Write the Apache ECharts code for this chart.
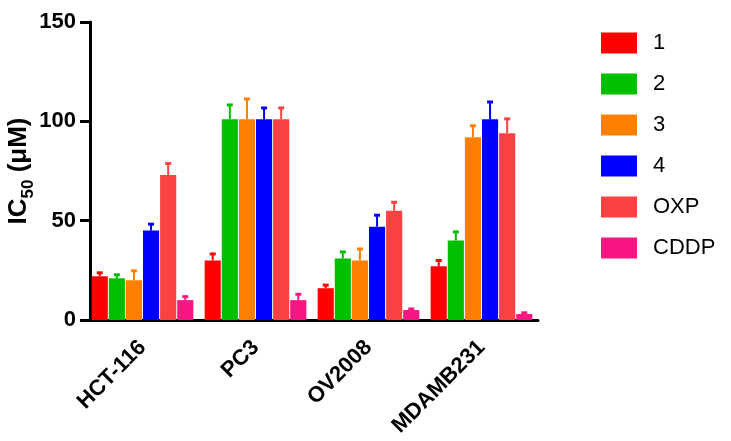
<!DOCTYPE html>
<html>
<head>
<meta charset="utf-8">
<title>IC50</title>
<script src="https://cdn.jsdelivr.net/npm/echarts@6/dist/echarts.min.js"></script>
<style>
    html, body { margin: 0; padding: 0; background: #fff; }
    #chart { width: 731px; height: 441px; }
</style>
</head>
<body>
<div id="chart"></div>
<script>
    // cell lines
    var categories = ['HCT-116', 'PC3', 'OV2008', 'MDAMB231'];
    var seriesNames = ['1', '2', '3', '4', 'OXP', 'CDDP'];
    var yTicks = [0, 50, 100, 150];

    // mean IC50 values (uM)
    var comp1 = [22, 30, 16, 27];
    var comp2 = [21, 101, 31, 40];
    var comp3 = [20, 101, 30, 92];
    var comp4 = [45, 101, 47, 101];
    var oxp = [73, 101, 55, 94];
    var cddp = [10, 10, 5, 3];

    // upper error (SD)
    var err1 = [2, 3.5, 1.8, 3.2];
    var err2 = [2, 7.5, 3.5, 4.6];
    var err3 = [5, 10.5, 6, 6];
    var err4 = [3.5, 6, 6, 9];
    var errOxp = [6, 6, 4.5, 7.5];
    var errCddp = [2, 3.2, 0.8, 0.9];

    var values = [comp1, comp2, comp3, comp4, oxp, cddp];
    var errors = [err1, err2, err3, err4, errOxp, errCddp];
    var colors = ['#ff0000', '#00bf00', '#ff8000', '#0000ff', '#fa4242', '#f81682'];

    var CAT_GAP = 0.1;   // barCategoryGap
    var BAR_GAP = 0.06;  // barGap
    var N = seriesNames.length;

    var font = 'Arial, "Liberation Sans", Helvetica, sans-serif';

    /**
     * error bar: vertical line from bar top plus small cap
     */
    function errorRenderer(k) {
        return function (params, api) {
            var cat = api.value(0);
            var v = api.value(1);
            var e = api.value(2);
            var band = api.size([1, 0])[0];
            var groupW = band * (1 - CAT_GAP);
            var barW = groupW / (N + (N - 1) * BAR_GAP);
            var off = -groupW / 2 + k * barW * (1 + BAR_GAP) + barW / 2;
            var base = api.coord([cat, v]);
            var top = api.coord([cat, v + e]);
            var x = base[0] + off;
            return {
                type: 'group',
                children: [{
                    type: 'line',
                    shape: { x1: x, y1: base[1], x2: x, y2: top[1] },
                    style: { stroke: colors[k], lineWidth: 2 }
                }, {
                    type: 'rect',
                    shape: { x: x - 3, y: top[1] - 1, width: 6, height: 3 },
                    style: { fill: colors[k] }
                }]
            };
        };
    }

    var series = [];
    seriesNames.forEach(function (name, k) {
        series.push({
            name: name,
            type: 'bar',
            data: values[k],
            barCategoryGap: (CAT_GAP * 100) + '%',
            barGap: (BAR_GAP * 100) + '%',
            itemStyle: { color: colors[k] },
            emphasis: { disabled: true },
            z: 2
        });
    });
    seriesNames.forEach(function (name, k) {
        series.push({
            name: name + '_err',
            type: 'custom',
            renderItem: errorRenderer(k),
            encode: { x: 0, y: 1 },
            data: values[k].map(function (v, i) { return [i, v, errors[k][i]]; }),
            z: 1,
            silent: true
        });
    });

    var myChart = echarts.init(document.getElementById('chart'));
    var option = {
        animation: false,
        backgroundColor: '#fff',
        grid: {
            left: 86, right: 193, top: 22, bottom: 121,
            containLabel: false,
            outerBoundsMode: 'none'
        },
        legend: {
            data: seriesNames,
            orient: 'vertical',
            left: 601,
            top: 32,
            padding: 0,
            itemWidth: 36,
            itemHeight: 21,
            itemGap: 19,
            icon: 'rect',
            selectedMode: false,
            textStyle: {
                fontFamily: font,
                fontSize: 22,
                lineHeight: 21,
                color: '#000',
                padding: [0, 0, 0, 11]
            }
        },
        xAxis: {
            type: 'category',
            data: categories,
            axisLine: { lineStyle: { color: '#000', width: 3 } },
            axisTick: { alignWithLabel: true, length: 8, lineStyle: { color: '#000', width: 3 } },
            axisLabel: {
                rotate: 45,
                margin: 24,
                fontFamily: font,
                fontSize: 22,
                fontWeight: 'bold',
                color: '#000'
            }
        },
        yAxis: {
            type: 'value',
            offset: -4,
            min: yTicks[0],
            max: yTicks[yTicks.length - 1],
            interval: 50,
            name: '{a|IC}{b|50}{a| (μM)}',
            nameLocation: 'middle',
            nameRotate: 90,
            nameGap: 58,
            nameMoveOverlap: false,
            nameTextStyle: {
                rich: {
                    a: { fontFamily: font, fontSize: 26, fontWeight: 'bold', color: '#000', lineHeight: 28, verticalAlign: 'bottom' },
                    b: { fontFamily: font, fontSize: 17, fontWeight: 'bold', color: '#000', lineHeight: 28, verticalAlign: 'bottom', padding: [0, 0, -5, 0] }
                }
            },
            splitLine: { show: false },
            axisLine: { show: true, lineStyle: { color: '#000', width: 3 } },
            axisTick: { show: true, length: 10, lineStyle: { color: '#000', width: 3 } },
            axisLabel: {
                margin: 14,
                fontFamily: font,
                fontSize: 22,
                fontWeight: 'bold',
                color: '#000'
            }
        },
        series: series
    };
    myChart.setOption(option);
</script>
</body>
</html>
